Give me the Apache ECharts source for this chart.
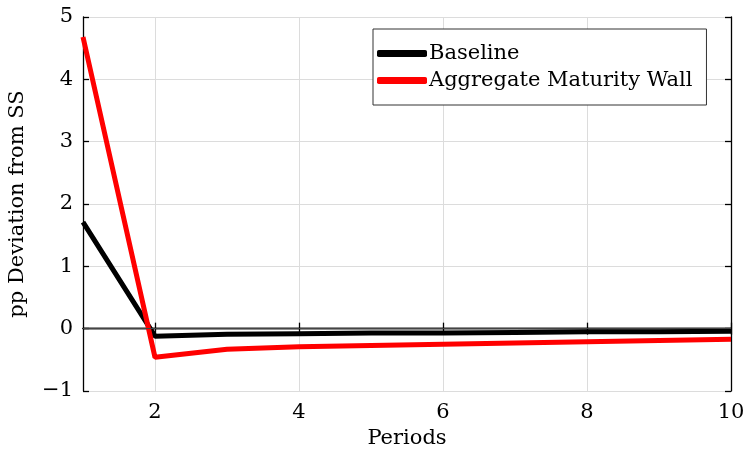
<!DOCTYPE html>
<html>
<head>
<meta charset="utf-8">
<script src="https://cdn.jsdelivr.net/npm/echarts@6/dist/echarts.min.js"></script>
<style>html,body{margin:0;padding:0;background:#fff}#c{width:743px;height:450px}</style>
</head>
<body>
<div id="c"></div>
<script>
var periods = [1, 2, 3, 4, 5, 6, 7, 8, 9, 10];
var baseline = [1.71, -0.12, -0.09, -0.08, -0.07, -0.07, -0.06, -0.05, -0.05, -0.04];
var maturityWall = [4.68, -0.46, -0.33, -0.29, -0.27, -0.25, -0.23, -0.21, -0.19, -0.17];
var xTicks = [2, 4, 6, 8, 10];
var yTicks = [-1, 0, 1, 2, 3, 4, 5];

var FONT = 'DejaVu Serif';
var FS = 21;
function pairs(v){ return periods.map(function(p,i){ return [p, v[i]]; }); }
function fmtY(v){ return String(v).replace('-', '\u2212'); }

var chart = echarts.init(document.getElementById('c'));
var axisLineStyle = {show: true, lineStyle: {color: '#000', width: 1.3}};
chart.setOption({
  animation: false,
  backgroundColor: '#fff',
  textStyle: {fontFamily: FONT, color: '#000'},
  grid: {left: 83, right: 12, top: 17, bottom: 59, containLabel: false, outerBoundsMode: 'none'},
  legend: {
    left: 373, top: 29,
    orient: 'vertical',
    backgroundColor: '#fff',
    borderColor: '#333', borderWidth: 1,
    padding: [14, 14, 14, 4],
    itemGap: 6,
    itemWidth: 50, itemHeight: 7,
    textStyle: {fontFamily: FONT, fontSize: FS, color: '#000', padding: [0, 0, 0, -3]},
    data: [
      {name: 'Baseline', icon: 'roundRect'},
      {name: 'Aggregate Maturity Wall', icon: 'roundRect'}
    ]
  },
  xAxis: [{
    type: 'value', min: 1, max: 10, position: 'bottom',
    name: 'Periods', nameLocation: 'middle', nameGap: 36,
    nameTextStyle: {fontFamily: FONT, fontSize: FS, color: '#000'},
    axisLine: axisLineStyle,
    axisTick: {show: true, inside: true, length: 6, customValues: xTicks, lineStyle: {color: '#000', width: 1.3}},
    axisLabel: {customValues: xTicks, fontFamily: FONT, fontSize: FS, color: '#000', margin: 11},
    splitLine: {show: true, lineStyle: {color: '#dcdcdc', width: 1}}
  }, {
    type: 'value', min: 1, max: 10, position: 'top',
    axisLine: axisLineStyle,
    axisTick: {show: true, inside: true, length: 6, customValues: xTicks, lineStyle: {color: '#000', width: 1.3}},
    axisLabel: {show: false, customValues: xTicks},
    splitLine: {show: false}
  }],
  yAxis: [{
    type: 'value', min: -1, max: 5, interval: 1, position: 'left',
    name: 'pp Deviation from SS', nameLocation: 'middle', nameGap: 55,
    nameTextStyle: {fontFamily: FONT, fontSize: FS, color: '#000'},
    axisLine: axisLineStyle,
    axisTick: {show: true, inside: true, length: 6, lineStyle: {color: '#000', width: 1.3}},
    axisLabel: {fontFamily: FONT, fontSize: FS, color: '#000', margin: 10, formatter: fmtY},
    splitLine: {show: true, lineStyle: {color: '#dcdcdc', width: 1}}
  }, {
    type: 'value', min: -1, max: 5, interval: 1, position: 'right',
    axisLine: axisLineStyle,
    axisTick: {show: true, inside: true, length: 6, lineStyle: {color: '#000', width: 1.3}},
    axisLabel: {show: false},
    splitLine: {show: false}
  }],
  series: [{
    name: 'Baseline', type: 'line', data: pairs(baseline),
    showSymbol: false, symbol: 'none',
    lineStyle: {color: '#000', width: 5},
    itemStyle: {color: '#000'},
    z: 3,
    markLine: {
      silent: true, symbol: 'none', label: {show: false},
      lineStyle: {color: '#444', width: 1, type: 'solid'},
      data: [{yAxis: 0}]
    }
  }, {
    name: 'Aggregate Maturity Wall', type: 'line', data: pairs(maturityWall),
    showSymbol: false, symbol: 'none',
    lineStyle: {color: '#ff0000', width: 5},
    itemStyle: {color: '#ff0000'},
    z: 4
  }]
});
</script>
</body>
</html>
